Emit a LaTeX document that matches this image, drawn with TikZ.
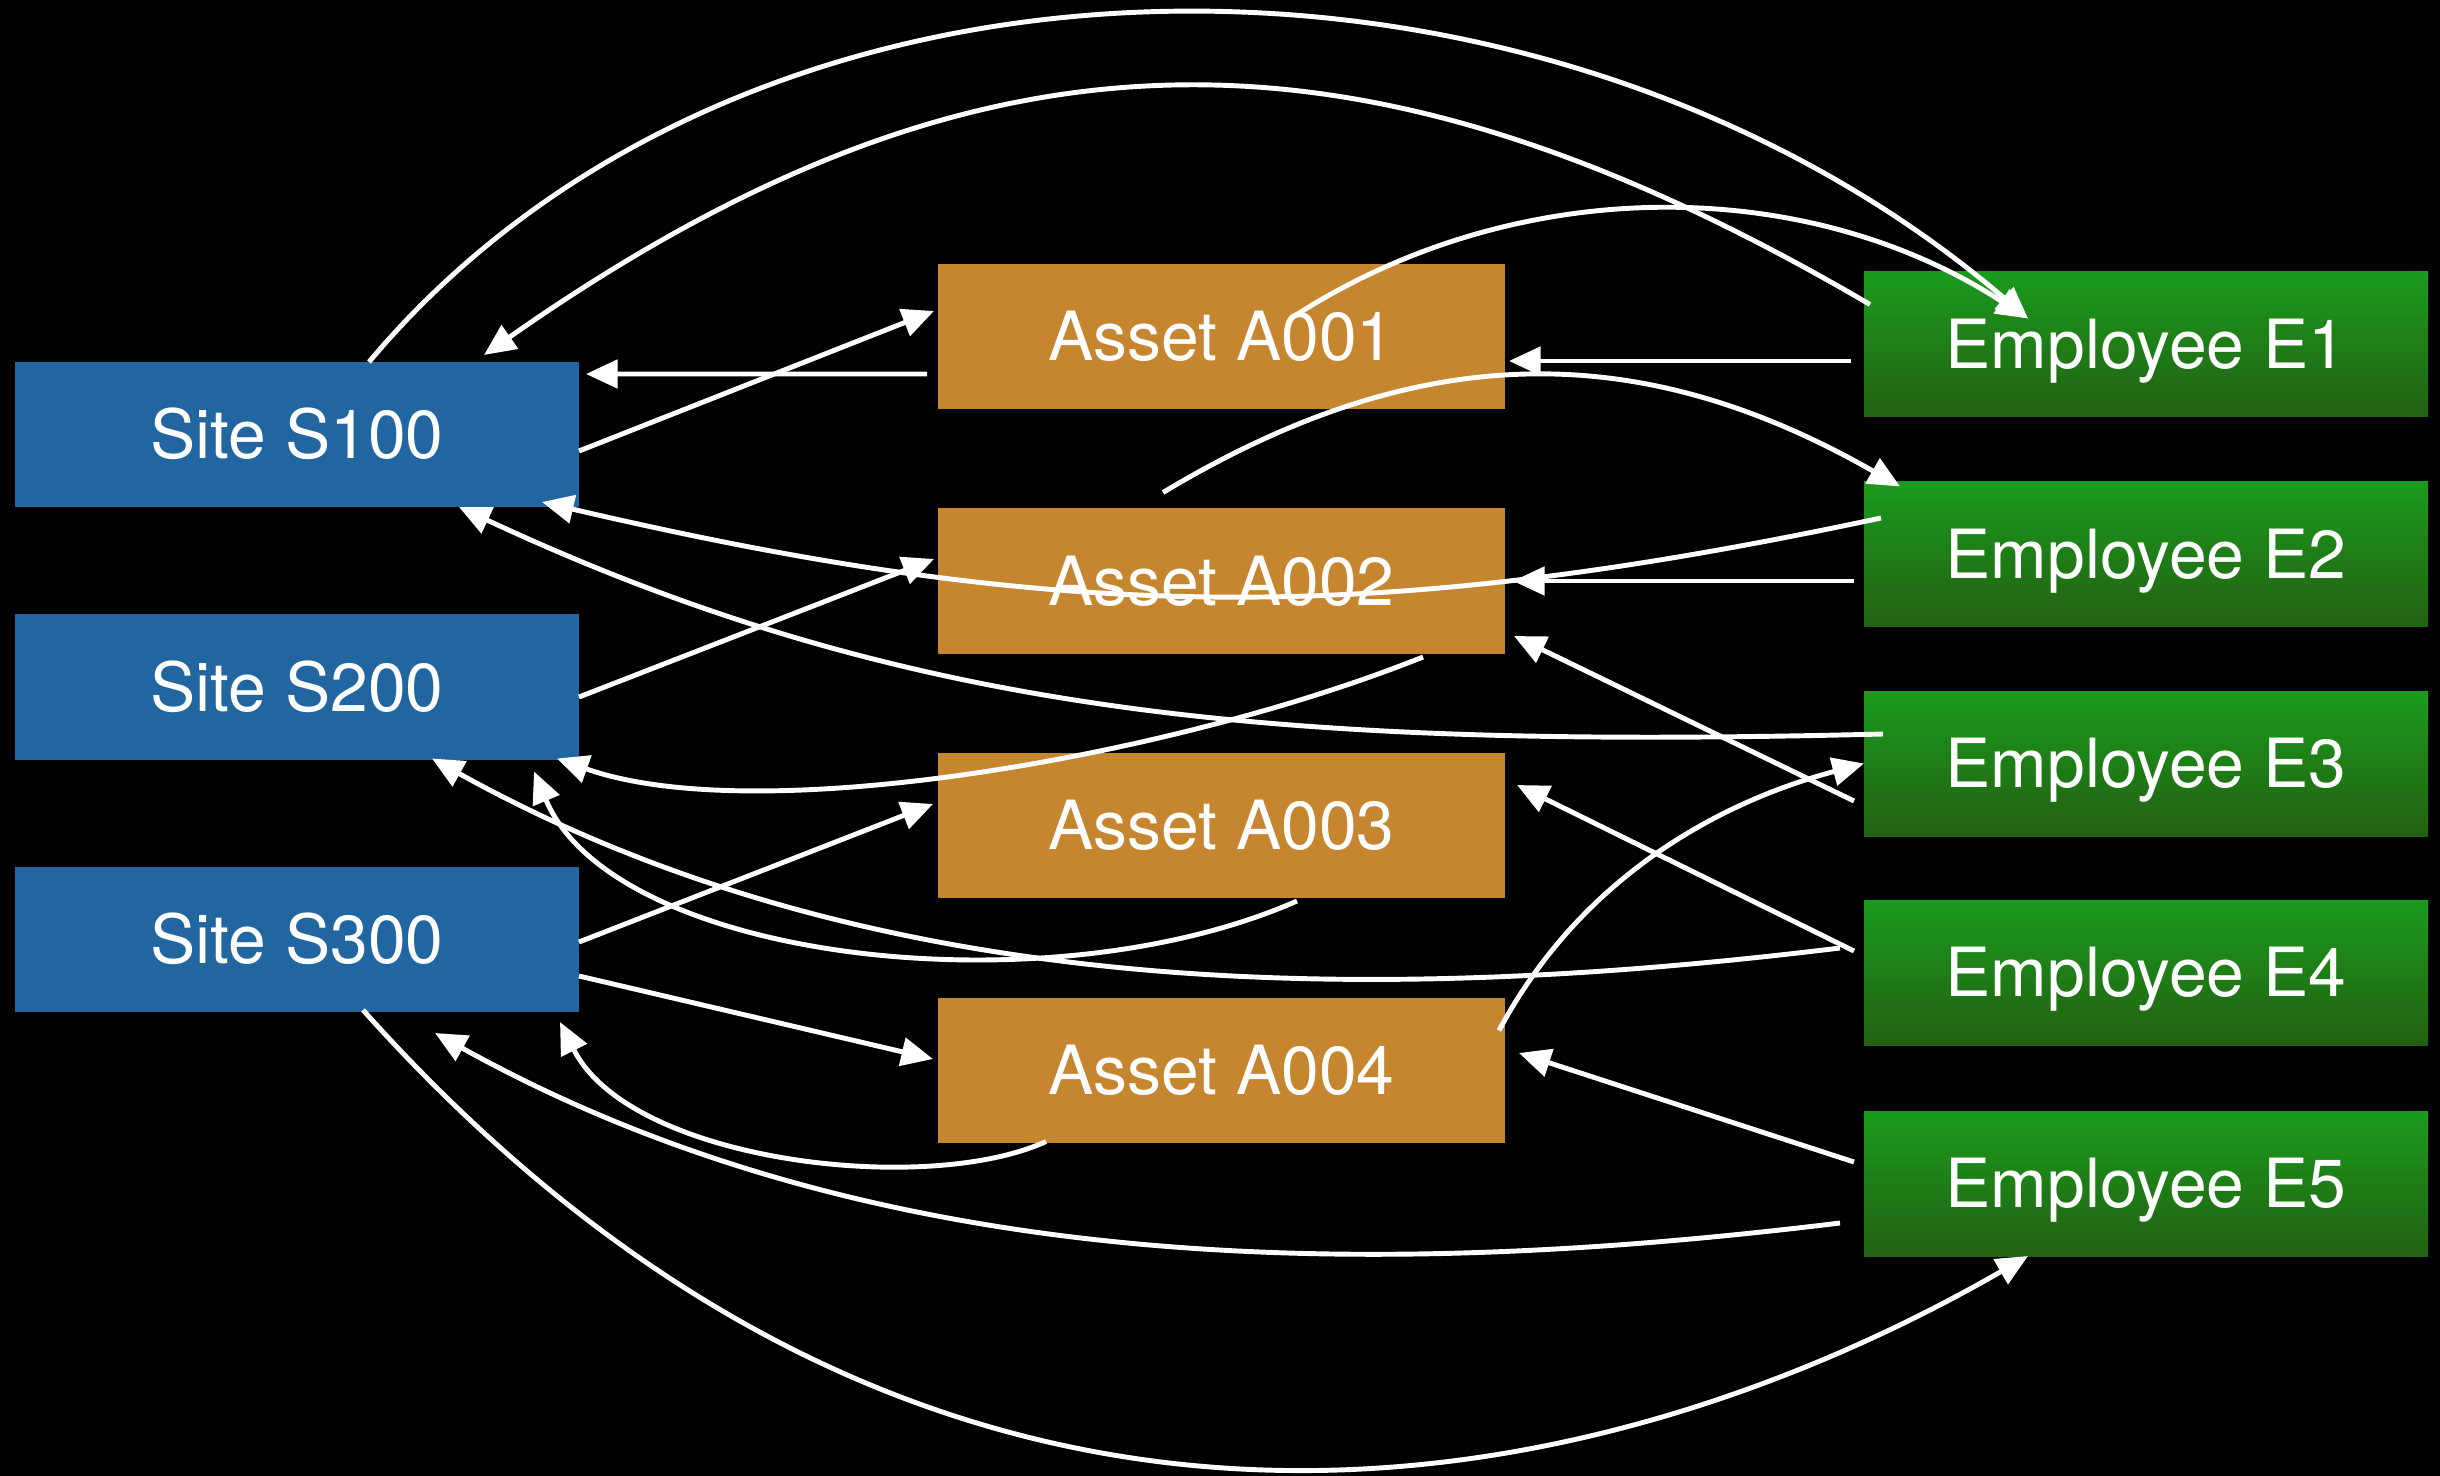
\documentclass[tikz,border=0pt]{standalone}
\usepackage{fontspec}
\setsansfont{TeX Gyre Heros}
\usepackage{xcolor}
\definecolor{bleu}{HTML}{2166A1}
\definecolor{ocre}{HTML}{C6852F}
\definecolor{vertclair}{HTML}{1A9B1C}
\definecolor{vertfonce}{HTML}{236012}
\usepackage{tikz}
\usetikzlibrary{arrows.meta}

\begin{document}
\begin{tikzpicture}[
  site/.style={fill=bleu,text=white,minimum width=5.64cm,minimum height=1.45cm,inner sep=0pt,outer sep=0pt,text height=13.8pt,text depth=0pt,font=\sffamily\fontsize{19.3}{23}\selectfont},
  asset/.style={fill=ocre,text=white,minimum width=5.67cm,minimum height=1.45cm,inner sep=0pt,outer sep=0pt,text height=13.8pt,text depth=0pt,font=\sffamily\fontsize{19.3}{23}\selectfont},
  empl/.style={top color=vertclair,bottom color=vertfonce,text=white,minimum width=5.64cm,minimum height=1.45cm,inner sep=0pt,outer sep=0pt,text height=13.8pt,text depth=0pt,font=\sffamily\fontsize{19.3}{23}\selectfont},
  fl/.style={-{Triangle[length=9pt,width=8pt]},white,line width=1.4pt}
]
% fond
\fill[black] (0,0) rectangle (24.4,-14.76);
\useasboundingbox (0,0) rectangle (24.4,-14.76);
% sites
\node[site] (s1) at (2.97,-4.345) {Site S100};
\node[site] (s2) at (2.97,-6.87) {Site S200};
\node[site] (s3) at (2.97,-9.395) {Site S300};
% assets
\node[asset] (a1) at (12.215,-3.365) {Asset A001};
\node[asset] (a2) at (12.215,-5.81) {Asset A002};
\node[asset] (a3) at (12.215,-8.255) {Asset A003};
\node[asset] (a4) at (12.215,-10.70) {Asset A004};
% employees
\node[empl] (e1) at (21.46,-3.44) {Employee E1};
\node[empl] (e2) at (21.46,-5.54) {Employee E2};
\node[empl] (e3) at (21.46,-7.635) {Employee E3};
\node[empl] (e4) at (21.46,-9.725) {Employee E4};
\node[empl] (e5) at (21.46,-11.835) {Employee E5};
% lignes droites
\draw[fl] ([shift={(-0.13,-0.17)}]e1.west) -- ([shift={(0.04,-0.245)}]a1.east);
\draw[fl] ([shift={(-0.11,-0.375)}]a1.west) -- ([shift={(0.07,0.605)}]s1.east);
\draw[fl] ([shift={(0,-0.165)}]s1.east) -- ([shift={(-0.04,0.255)}]a1.west);
\draw[fl] ([shift={(-0.10,-0.27)}]e2.west) -- ([shift={(0.08,0)}]a2.east);
\draw[fl] ([shift={(0,-0.10)}]s2.east) -- ([shift={(-0.04,0.22)}]a2.west);
\draw[fl] ([shift={(-0.10,-0.375)}]e3.west) -- ([shift={(0.09,0.175)}]a2.south east);
\draw[fl] ([shift={(0,-0.025)}]s3.east) -- ([shift={(-0.05,0.215)}]a3.west);
\draw[fl] ([shift={(-0.10,0.215)}]e4.west) -- ([shift={(0.12,0.405)}]a3.east);
\draw[fl] ([shift={(0,-0.365)}]s3.east) -- ([shift={(-0.05,0.11)}]a4.west);
\draw[fl] ([shift={(-0.10,0.215)}]e5.west) -- ([shift={(0.14,0.17)}]a4.east);
% courbes
\draw[fl] ([shift={(0.72,0)}]s1.north) .. controls +(3.83,4.57) and +(-4.83,4.13) .. ([shift={(-1.18,-0.47)}]e1.north);
\draw[fl] ([shift={(0.06,-0.33)}]e1.north west) .. controls +(-5.09,2.98) and +(4.98,3.49) .. ([shift={(1.87,0.07)}]s1.north);
\draw[fl] ([shift={(0.715,-0.53)}]a1.north) .. controls +(2.22,1.44) and +(-2.23,1.45) .. ([shift={(-1.18,-0.47)}]e1.north);
\draw[fl] ([shift={(-0.585,0.16)}]a2.north) .. controls +(2.58,1.55) and +(-2.59,1.48) .. ([shift={(0.36,-0.05)}]e2.north west);
\draw[fl] ([shift={(0.17,0.36)}]e2.west) .. controls +(-5.03,-1.07) and +(5.26,-1.23) .. ([shift={(-0.37,0.05)}]s1.south east);
\draw[fl] ([shift={(0.19,0.295)}]e3.west) .. controls +(-6.00,-0.15) and +(4.50,-2.10) .. ([shift={(1.62,0)}]s1.south);
\draw[fl] ([shift={(2.015,-0.035)}]a2.south) .. controls +(-2.50,-1.00) and +(2.00,-0.71) .. ([shift={(-0.22,0.01)}]s2.south east);
\draw[fl] ([shift={(-0.06,-0.33)}]a4.north east) .. controls +(0.80,1.50) and +(-1.50,-0.40) .. (e3.west);
\draw[fl] ([shift={(0.755,-0.03)}]a3.south) .. controls +(-2.50,-1.10) and +(0.80,-1.90) .. ([shift={(-0.45,-0.12)}]s2.south east);
\draw[fl] ([shift={(-0.24,0.245)}]e4.west) .. controls +(-4.50,-0.55) and +(4.50,-2.50) .. ([shift={(1.35,0.01)}]s2.south);
\draw[fl] ([shift={(-1.755,0.01)}]a4.south) .. controls +(-1.20,-0.55) and +(0.70,-1.40) .. ([shift={(-0.19,-0.10)}]s3.south east);
\draw[fl] ([shift={(-0.24,-0.395)}]e5.west) .. controls +(-4.50,-0.55) and +(4.50,-2.50) .. ([shift={(1.38,-0.21)}]s3.south);
\draw[fl] ([shift={(0.66,0.02)}]s3.south) .. controls +(6.17,-6.90) and +(-3.56,-2.05) .. ([shift={(-1.18,0)}]e5.south);
\end{tikzpicture}
\end{document}
